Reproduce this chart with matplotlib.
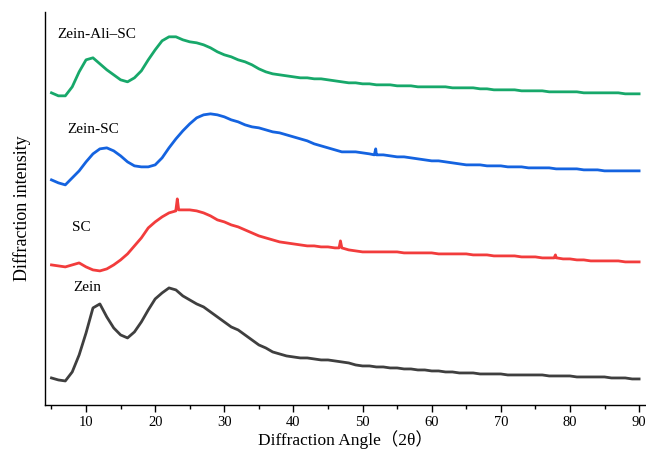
import numpy as np
import matplotlib
matplotlib.use("Agg")
import matplotlib.pyplot as plt

plt.rcParams['font.family'] = ['Liberation Serif', 'Noto Sans CJK SC', 'DejaVu Sans']

# diffraction angle, 1 degree steps
angle = np.arange(5, 91, 1)

zein = [27, 25, 24, 33, 50, 72, 97, 101, 88, 77, 70, 67, 73, 83, 95, 106, 112, 117, 115, 109,
        105, 101, 98, 93, 88, 83, 78, 75, 70, 65, 60, 57, 53, 51, 49, 48, 47, 47, 46, 45,
        45, 44, 43, 42, 40, 39, 39, 38, 38, 37, 37, 36, 36, 35, 35, 34, 34, 33, 33, 32,
        32, 32, 31, 31, 31, 31, 30, 30, 30, 30, 30, 30, 29, 29, 29, 29, 28, 28, 28, 28,
        28, 27, 27, 27, 26, 26]

sc = [140, 139, 138, 140, 142, 138, 135, 134, 136, 140, 145, 151, 159, 167, 177, 183, 188, 192, 194, 195,
      195, 194, 192, 189, 185, 183, 180, 178, 175, 172, 169, 167, 165, 163, 162, 161, 160, 159, 159, 158,
      158, 157, 157, 155, 154, 153, 153, 153, 153, 153, 153, 152, 152, 152, 152, 152, 151, 151, 151, 151,
      151, 150, 150, 150, 149, 149, 149, 149, 148, 148, 148, 147, 147, 147, 146, 146, 145, 145, 144, 144,
      144, 144, 144, 143, 143, 143]
# narrow sharp peaks (x, y), with their foot points
sc_spike_x = [23.0, 23.2, 23.4, 46.6, 46.8, 47.0, 77.7, 77.9, 78.1]
sc_spike_y = [195, 206, 195, 157, 164, 157, 147, 150, 147]

zein_sc = [225, 222, 220, 227, 234, 243, 251, 256, 257, 254, 249, 243, 239, 238, 238, 240, 247, 257, 266, 274,
           281, 287, 290, 291, 290, 288, 285, 283, 280, 278, 277, 275, 273, 272, 270, 268, 266, 264, 261, 259,
           257, 255, 253, 253, 253, 252, 251, 250, 250, 249, 248, 248, 247, 246, 245, 244, 244, 243, 242, 241,
           240, 240, 240, 239, 239, 239, 238, 238, 238, 237, 237, 237, 237, 236, 236, 236, 236, 235, 235, 235,
           234, 234, 234, 234, 234, 234]
zein_sc_spike_x = [51.7, 51.9, 52.1]
zein_sc_spike_y = [250, 256, 250]

zein_ali_sc = [312, 309, 309, 318, 333, 345, 347, 341, 335, 330, 325, 323, 327, 334, 345, 355, 364, 368, 368, 365,
               363, 362, 360, 357, 353, 350, 348, 345, 343, 340, 336, 333, 331, 330, 329, 328, 327, 327, 326, 326,
               325, 324, 323, 322, 322, 321, 321, 320, 320, 320, 319, 319, 319, 318, 318, 318, 318, 318, 317, 317,
               317, 317, 316, 316, 315, 315, 315, 315, 314, 314, 314, 314, 313, 313, 313, 313, 313, 312, 312, 312,
               312, 312, 312, 311, 311, 311]

names = ['Zein', 'SC', 'Zein-SC', 'Zein-Ali\u2013SC']
label_pos = [(8.2, 117), (7.9, 177), (7.3, 275), (5.9, 370)]
colors = ['#3f3f3f', '#f23c3c', '#1463e0', '#17a86a']


def with_spikes(x, y, sx, sy):
    xx = np.concatenate([x, sx])
    yy = np.concatenate([y, sy])
    order = np.argsort(xx, kind='stable')
    return xx[order], yy[order]


series = [
    (angle, np.array(zein)),
    with_spikes(angle, np.array(sc), sc_spike_x, sc_spike_y),
    with_spikes(angle, np.array(zein_sc), zein_sc_spike_x, zein_sc_spike_y),
    (angle, np.array(zein_ali_sc)),
]

fig = plt.figure(figsize=(6.46, 4.54), dpi=100)
ax = fig.add_axes([0.069, 0.108, 0.931, 0.866])

for (x, y), c, name, (lx, ly) in zip(series, colors, names, label_pos):
    ax.plot(x, y, color=c, lw=2.0)
    ax.text(lx, ly, name, fontsize=11, va='center', ha='left')

ax.set_xlim(4.0, 91)
ax.set_ylim(0, 393)
ax.set_xticks(np.arange(10, 91, 10))
ax.set_xticks(np.arange(5, 91, 10), minor=True)
ax.set_yticks([])
ax.spines['top'].set_visible(False)
ax.spines['right'].set_visible(False)
ax.spines['left'].set_linewidth(1.0)
ax.spines['bottom'].set_linewidth(1.0)
ax.tick_params(axis='x', which='major', direction='out', length=5, width=1.0, labelsize=10.5, pad=3)
ax.tick_params(axis='x', which='minor', direction='out', length=3, width=1.0)

ax.set_xlabel('Diffraction Angle\uff082\u03b8\uff09', fontsize=12.5, labelpad=1)
ax.set_ylabel('Diffraction intensity', fontsize=13, labelpad=10)

fig.savefig('out.png', dpi=100)
